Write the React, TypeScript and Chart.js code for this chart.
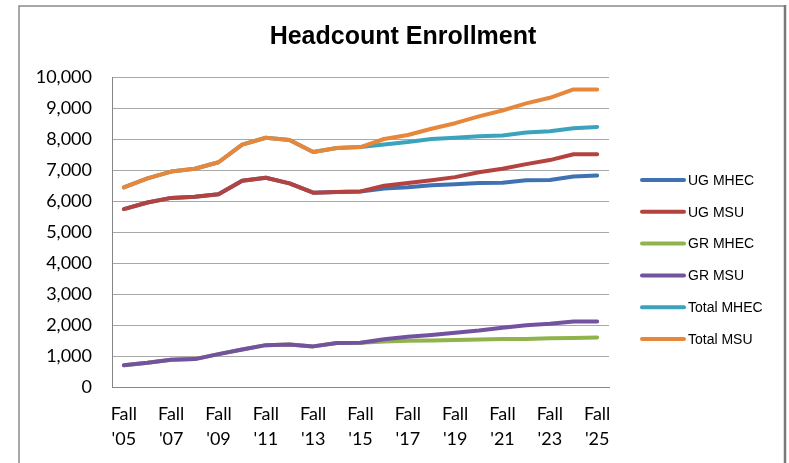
import React, { useEffect, useRef } from "react";
import { Chart, registerables } from "chart.js";

Chart.register(...registerables);

const categories = [
  "Fall '05", "Fall '06", "Fall '07", "Fall '08", "Fall '09", "Fall '10", "Fall '11",
  "Fall '12", "Fall '13", "Fall '14", "Fall '15", "Fall '16", "Fall '17", "Fall '18",
  "Fall '19", "Fall '20", "Fall '21", "Fall '22", "Fall '23", "Fall '24", "Fall '25",
];

const ugMhec = [5740, 5950, 6100, 6140, 6220, 6650, 6750, 6570, 6270, 6290, 6310, 6400, 6440, 6510, 6540, 6580, 6590, 6670, 6680, 6790, 6820];
const ugMsu = [5740, 5950, 6100, 6140, 6220, 6650, 6750, 6570, 6270, 6290, 6310, 6490, 6580, 6670, 6770, 6930, 7040, 7190, 7320, 7510, 7510];
const grMhec = [700, 780, 880, 900, 1060, 1210, 1350, 1370, 1310, 1420, 1430, 1470, 1490, 1500, 1520, 1530, 1550, 1550, 1570, 1580, 1600];
const grMsu = [700, 780, 880, 900, 1060, 1210, 1350, 1370, 1310, 1420, 1430, 1540, 1620, 1680, 1750, 1820, 1910, 1990, 2040, 2110, 2110];
const totalMhec = [6440, 6730, 6950, 7040, 7250, 7820, 8040, 7970, 7580, 7710, 7740, 7820, 7900, 8000, 8040, 8090, 8110, 8210, 8250, 8350, 8390];
const totalMsu = [6440, 6730, 6950, 7040, 7250, 7820, 8040, 7970, 7580, 7710, 7740, 8000, 8130, 8330, 8510, 8730, 8920, 9150, 9330, 9600, 9600];

const seriesNames = ["UG MHEC", "UG MSU", "GR MHEC", "GR MSU", "Total MHEC", "Total MSU"];
const seriesValues = [ugMhec, ugMsu, grMhec, grMsu, totalMhec, totalMsu];
const seriesColors = ["#3f72b3", "#b4423f", "#8fb44c", "#7352a0", "#3ca3bd", "#e8873a"];

const chartTitle = "Headcount Enrollment";
const yMin = 0;
const yMax = 10000;
const yStep = 1000;

const framePlugin = {
  id: "frame",
  beforeDraw(chart: any) {
    const ctx = chart.ctx;
    ctx.save();
    ctx.fillStyle = "#ffffff";
    ctx.fillRect(0, 0, chart.width, chart.height);
    ctx.strokeStyle = "#8a8a8a";
    ctx.lineWidth = 1.5;
    ctx.beginPath();
    ctx.moveTo(19, chart.height);
    ctx.lineTo(19, 6);
    ctx.lineTo(785, 6);
    ctx.stroke();
    ctx.strokeStyle = "#7a7a7a";
    ctx.lineWidth = 2.5;
    ctx.beginPath();
    ctx.moveTo(785, 5);
    ctx.lineTo(785, chart.height);
    ctx.stroke();
    ctx.restore();
  },
};

const titleLegendPlugin = {
  id: "titleLegend",
  afterDraw(chart: any) {
    const ctx = chart.ctx;
    ctx.save();
    ctx.fillStyle = "#000000";
    ctx.font = "bold 25px 'Liberation Sans', Arial, sans-serif";
    ctx.textAlign = "center";
    ctx.textBaseline = "middle";
    ctx.fillText(chartTitle, 403, 37);

    ctx.font = "14px 'Liberation Sans', Arial, sans-serif";
    ctx.textAlign = "left";
    seriesNames.forEach((name, i) => {
      const y = 180 + i * 31.8;
      ctx.strokeStyle = seriesColors[i];
      ctx.lineWidth = 4;
      ctx.lineCap = "round";
      ctx.beginPath();
      ctx.moveTo(642, y);
      ctx.lineTo(684, y);
      ctx.stroke();
      ctx.fillStyle = "#000000";
      ctx.fillText(name, 688, y + 1);
    });
    ctx.restore();
  },
};

export default function App() {
  const canvasRef = useRef<HTMLCanvasElement | null>(null);

  useEffect(() => {
    if (!canvasRef.current) return;
    const datasets = seriesNames.map((name, i) => ({
      label: name,
      data: seriesValues[i],
      borderColor: seriesColors[i],
      backgroundColor: seriesColors[i],
      borderWidth: 4,
      pointRadius: 0,
      pointHoverRadius: 0,
      tension: 0,
      borderCapStyle: "round" as const,
      borderJoinStyle: "round" as const,
      order: seriesNames.length - i,
    }));
    const chart = new Chart(canvasRef.current, {
      type: "line",
      data: { labels: categories, datasets },
      options: {
        animation: false,
        responsive: false,
        devicePixelRatio: 1,
        layout: { padding: { left: 0, right: 180, top: 77, bottom: 0 } },
        plugins: {
          legend: { display: false },
          title: { display: false },
          tooltip: { enabled: false },
        },
        scales: {
          x: {
            type: "category",
            offset: true,
            afterFit(scale: any) {
              scale.height = 76;
            },
            grid: { display: false, drawTicks: false },
            border: { display: true, color: "#868686", width: 1 },
            ticks: {
              autoSkip: false,
              maxRotation: 0,
              minRotation: 0,
              padding: 15,
              color: "#000000",
              font: { family: "Lato, 'Open Sans', sans-serif", size: 18, lineHeight: 1.39 },
              callback: (_v: any, i: number) =>
                i % 2 === 0 ? categories[i].split(" ") : "",
            },
          },
          y: {
            min: yMin,
            max: yMax,
            afterFit(scale: any) {
              scale.width = 112;
            },
            grid: { color: "#a8a8a8", lineWidth: 1, drawTicks: false },
            border: { display: true, color: "#868686", width: 1 },
            ticks: {
              stepSize: yStep,
              padding: 20,
              color: "#000000",
              font: { family: "Lato, 'Open Sans', sans-serif", size: 18 },
              callback: (v: any) => Number(v).toLocaleString("en-US"),
            },
          },
        },
      },
      plugins: [framePlugin, titleLegendPlugin],
    });
    return () => chart.destroy();
  }, []);

  return (
    <div style={{ position: "absolute", left: 0, top: 0, width: 789, height: 463, background: "#fff" }}>
      <canvas ref={canvasRef} width={789} height={463} style={{ display: "block", width: 789, height: 463 }} />
    </div>
  );
}
